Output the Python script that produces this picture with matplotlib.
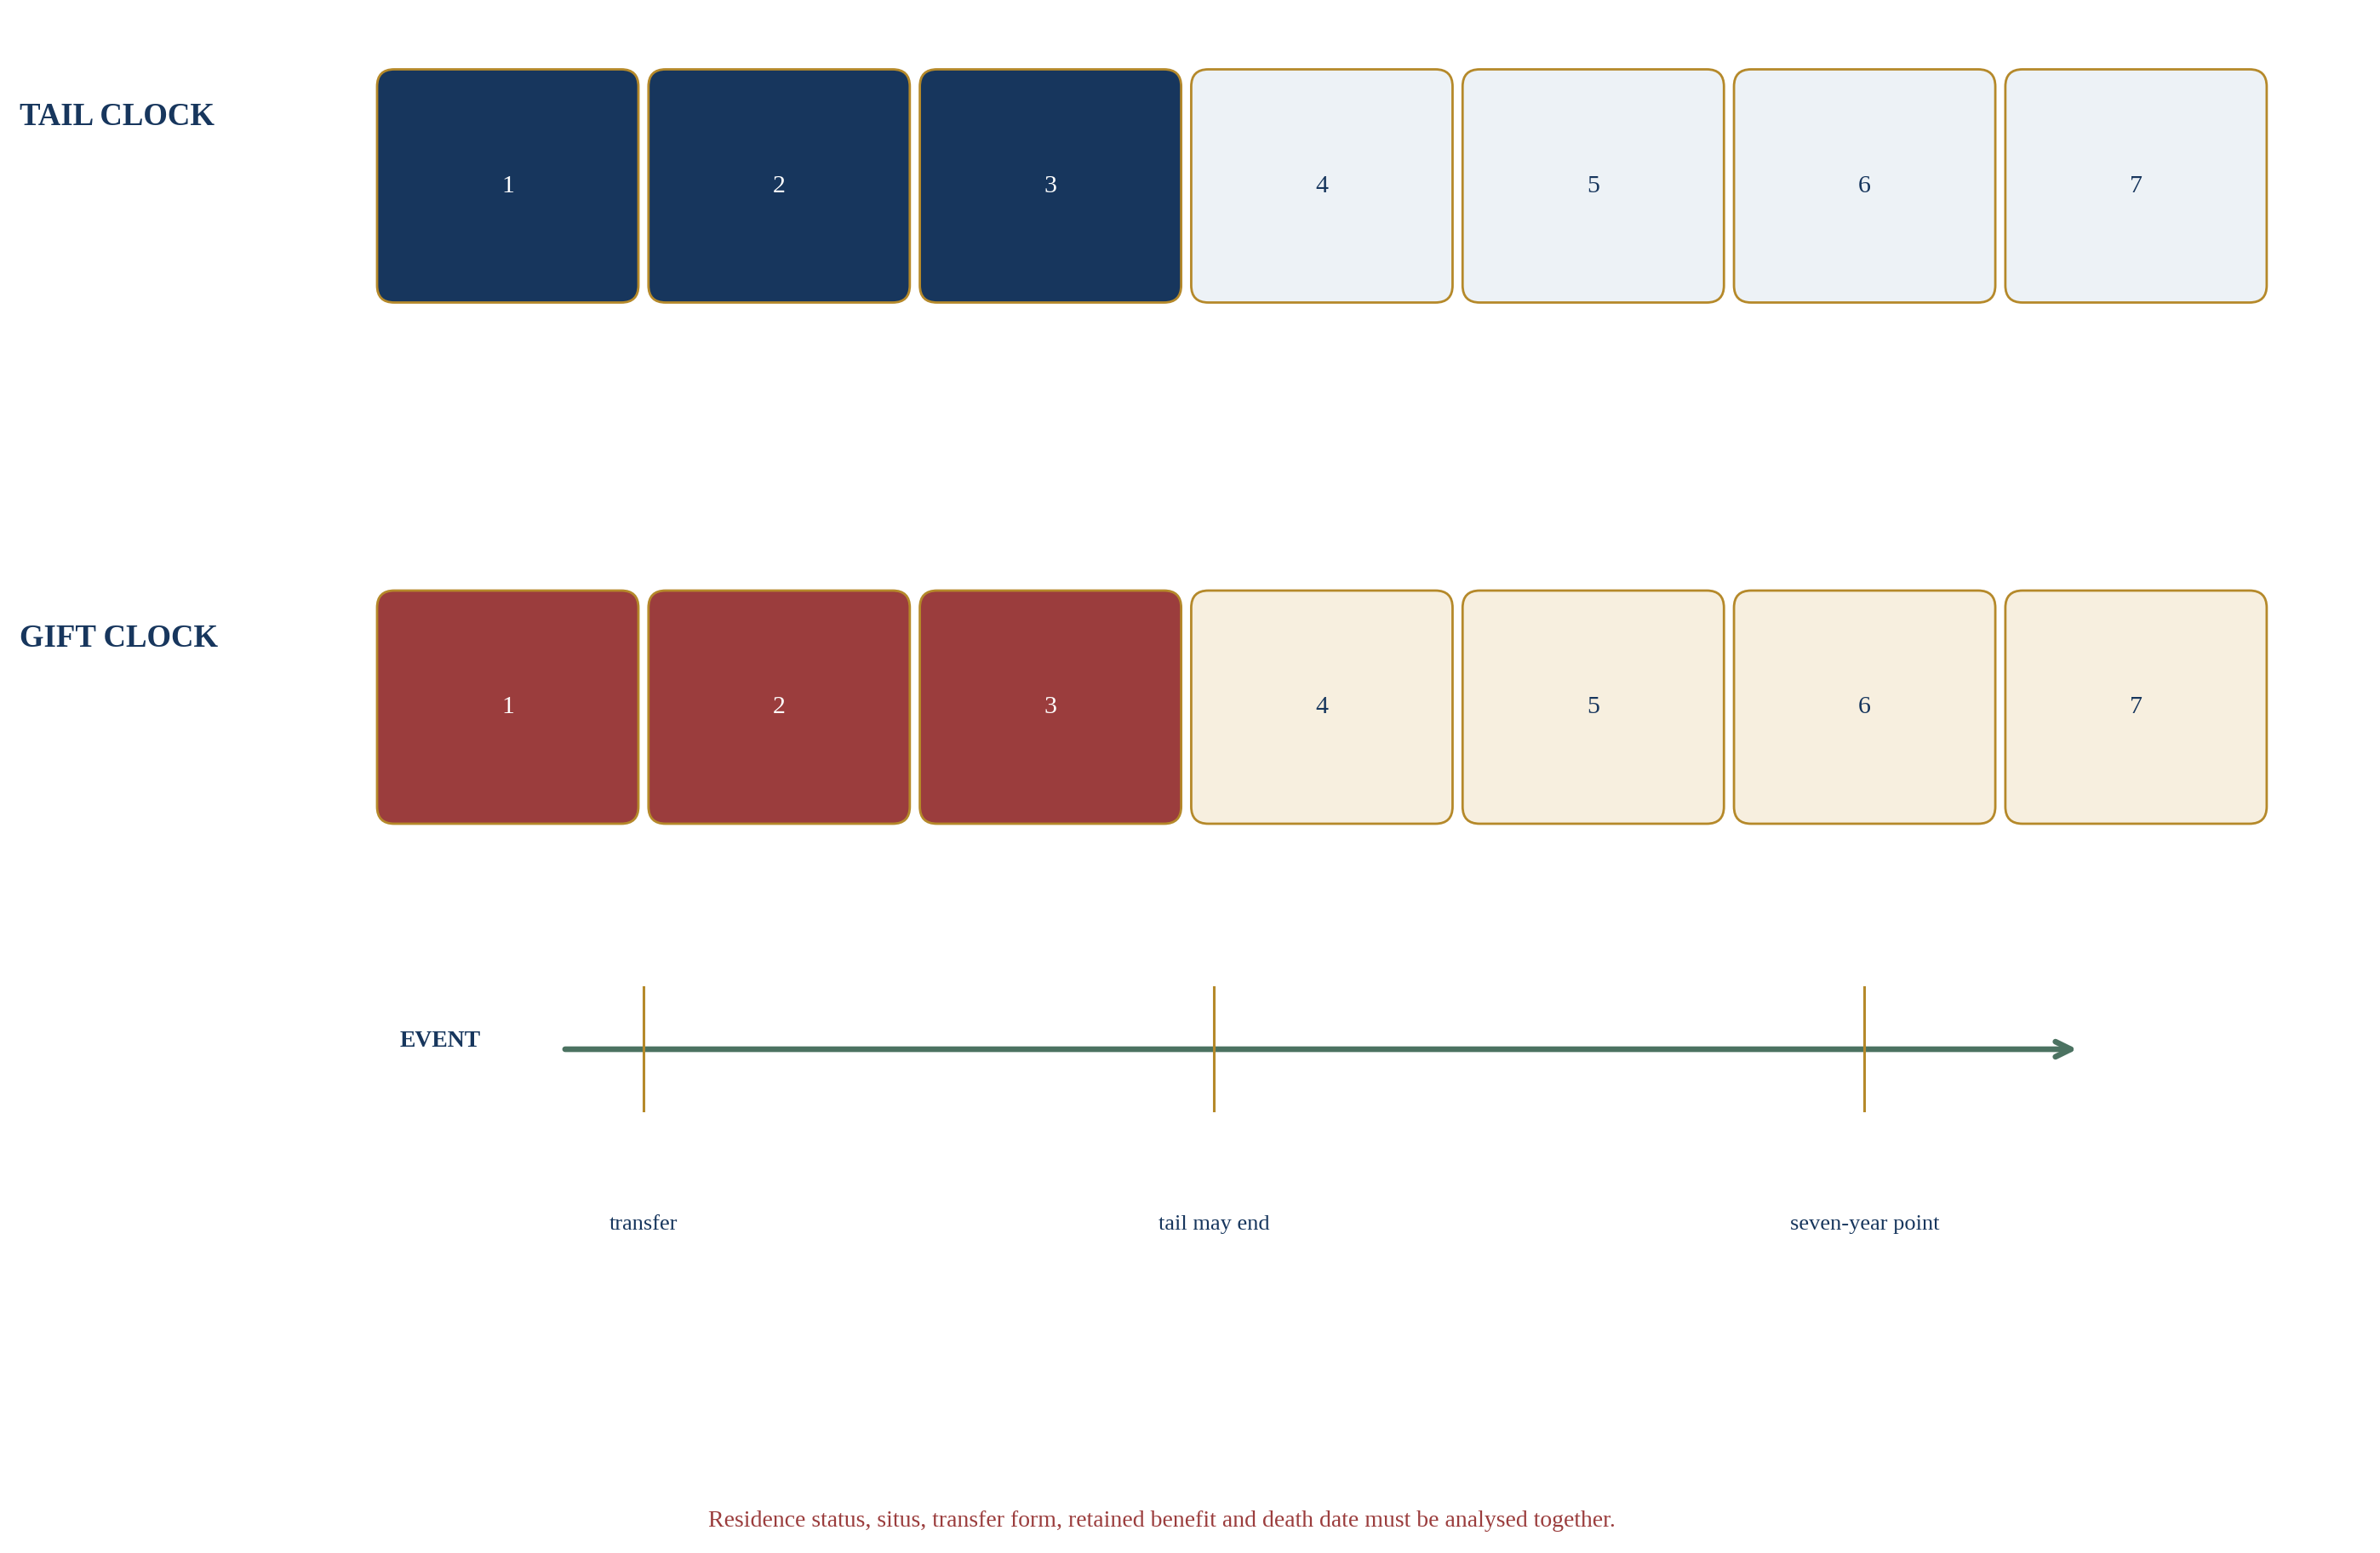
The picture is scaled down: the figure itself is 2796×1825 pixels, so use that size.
import matplotlib
matplotlib.use("Agg")
import matplotlib.pyplot as plt
from matplotlib.patches import FancyBboxPatch, FancyArrowPatch

plt.rcParams["font.family"] = ["Liberation Serif", "DejaVu Serif"]

# data
years = [1, 2, 3, 4, 5, 6, 7]
clocks = ["TAIL CLOCK", "GIFT CLOCK"]
elapsed = [3, 3]          # years already run on each clock
active_colors = ["#17365d", "#9b3d3d"]
idle_colors = ["#edf2f6", "#f7efdf"]

event_names = ["transfer", "tail may end", "seven-year point"]
event_years = [0, 3.27, 7]

note = ("Residence status, situs, transfer form, retained benefit "
        "and death date must be analysed together.")

NAVY = "#17365d"
GOLD = "#b5892a"
GREEN = "#4b7261"
RED = "#9b3d3d"

W, H = 2796, 1825
fig = plt.figure(figsize=(W / 100, H / 100), dpi=100)
fig.patch.set_facecolor("white")

# clock rows: x in years, y in pixels from the top
ax = fig.add_axes([0, 0, 1, 1])
ax.set_xlim(-0.871, 7.899)
ax.set_ylim(H, 0)
ax.axis("off")

row_centers = [218.5, 831]
row_height = 274
box_w = 0.963

for r, name in enumerate(clocks):
    yc = row_centers[r]
    ax.text(-0.799, yc - 81, name, fontsize=26.5, fontweight="bold",
            color=NAVY, ha="left", va="center")
    for yr in years:
        done = yr <= elapsed[r]
        face = active_colors[r] if done else idle_colors[r]
        box = FancyBboxPatch((yr - box_w / 2, yc - row_height / 2), box_w, row_height,
                             boxstyle="round,pad=0,rounding_size=0.063",
                             mutation_aspect=318.8,
                             facecolor=face, edgecolor=GOLD, linewidth=2.0)
        ax.add_patch(box)
        ax.text(yr, yc, str(yr), fontsize=21.5,
                color="white" if done else NAVY, ha="center", va="center")

# event timeline: x in years since transfer
ax2 = fig.add_axes([0, 0, 1, 1])
ax2.set_xlim(-3.690, 9.956)
ax2.set_ylim(H, 0)
ax2.axis("off")
ax2.patch.set_alpha(0)

line_y = 1233
ax2.text(-1.40, 1224, "EVENT", fontsize=20, fontweight="bold",
         color=NAVY, ha="left", va="center")
arrow = FancyArrowPatch((-0.45, line_y), (8.22, line_y),
                        arrowstyle="->,head_length=0.65,head_width=0.32",
                        mutation_scale=20, color=GREEN, linewidth=4.8,
                        capstyle="round", joinstyle="round",
                        shrinkA=0, shrinkB=0)
ax2.add_patch(arrow)

for name, t in zip(event_names, event_years):
    ax2.plot([t, t], [1160, 1305], color=GOLD, linewidth=2.2, zorder=3)
    ax2.text(t, 1439, name, fontsize=19, color=NAVY, ha="center", va="center")

fig.text(1365 / W, 1 - 1787 / H, note, fontsize=20, color=RED,
         ha="center", va="center")

fig.savefig("out.png", dpi=100, facecolor="white")
